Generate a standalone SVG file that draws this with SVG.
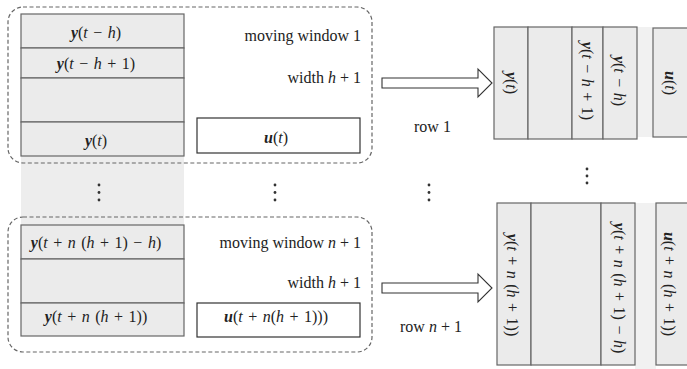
<svg xmlns="http://www.w3.org/2000/svg" width="687" height="369" viewBox="0 0 687 369">
<style>
.t{font-family:"Liberation Serif","Times New Roman",serif;font-size:16px;fill:#222}
.m{word-spacing:1.5px}
.i{font-style:italic}
.b{font-style:italic;font-weight:bold}
.cell{fill:#ebebeb;stroke:#666;stroke-width:1.2}
.box{fill:#fff;stroke:#333;stroke-width:1.2}
.win{fill:none;stroke:#666;stroke-width:1.2;stroke-dasharray:4 2.5}
.gap{fill:#f1f1f1}
.arr{fill:#fff;stroke:#333;stroke-width:1.1}
.dot{fill:#333}
</style>
<rect width="687" height="369" fill="#fff"/>

<!-- grey column between the two windows -->
<rect x="21" y="156" width="163" height="69" fill="#ededed"/>

<g id="window1">
  <rect class="win" x="8" y="7" width="364" height="156" rx="15"/>
  <g id="y-stack-1">
    <rect class="cell" x="21" y="14" width="163" height="34"/>
    <rect class="cell" x="21" y="48" width="163" height="30"/>
    <rect class="cell" x="21" y="78" width="163" height="44"/>
    <rect class="cell" x="21" y="122" width="163" height="34"/>
    <text class="t m" x="96" y="38" text-anchor="middle"><tspan class="b">y</tspan>(<tspan class="i">t</tspan> − <tspan class="i">h</tspan>)</text>
    <text class="t m" x="96" y="69" text-anchor="middle"><tspan class="b">y</tspan>(<tspan class="i">t</tspan> − <tspan class="i">h</tspan> + 1)</text>
    <text class="t m" x="96" y="146" text-anchor="middle"><tspan class="b">y</tspan>(<tspan class="i">t</tspan>)</text>
  </g>
  <g id="u-box-1">
    <rect class="box" x="197" y="118" width="163" height="35"/>
    <text class="t m" x="276" y="143" text-anchor="middle"><tspan class="b">u</tspan>(<tspan class="i">t</tspan>)</text>
  </g>
  <text class="t" x="361" y="41" text-anchor="end">moving window 1</text>
  <text class="t" x="361" y="83" text-anchor="end">width <tspan class="i">h</tspan> + 1</text>
</g>

<g id="window2">
  <rect class="win" x="8" y="217" width="364" height="135" rx="15"/>
  <g id="y-stack-2">
    <rect class="cell" x="21" y="225" width="163" height="34"/>
    <rect class="cell" x="21" y="259" width="163" height="44"/>
    <rect class="cell" x="21" y="303" width="163" height="33"/>
    <text class="t m" x="96" y="248" text-anchor="middle"><tspan class="b">y</tspan>(<tspan class="i">t</tspan> + <tspan class="i">n</tspan> (<tspan class="i">h</tspan> + 1) − <tspan class="i">h</tspan>)</text>
    <text class="t m" x="96" y="322" text-anchor="middle"><tspan class="b">y</tspan>(<tspan class="i">t</tspan> + <tspan class="i">n</tspan> (<tspan class="i">h</tspan> + 1))</text>
  </g>
  <g id="u-box-2">
    <rect class="box" x="197" y="303" width="163" height="34"/>
    <text class="t m" x="276" y="322" text-anchor="middle"><tspan class="b">u</tspan>(<tspan class="i">t</tspan> + <tspan class="i">n</tspan>(<tspan class="i">h</tspan> + 1)))</text>
  </g>
  <text class="t" x="361" y="248" text-anchor="end">moving window <tspan class="i">n</tspan> + 1</text>
  <text class="t" x="361" y="288" text-anchor="end">width <tspan class="i">h</tspan> + 1</text>
</g>

<g id="ellipses">
  <circle class="dot" cx="99" cy="185" r="1.4"/><circle class="dot" cx="99" cy="192.5" r="1.4"/><circle class="dot" cx="99" cy="200" r="1.4"/>
  <circle class="dot" cx="275" cy="185" r="1.4"/><circle class="dot" cx="275" cy="192.5" r="1.4"/><circle class="dot" cx="275" cy="200" r="1.4"/>
  <circle class="dot" cx="429" cy="185" r="1.4"/><circle class="dot" cx="429" cy="192.5" r="1.4"/><circle class="dot" cx="429" cy="200" r="1.4"/>
  <circle class="dot" cx="587" cy="169" r="1.4"/><circle class="dot" cx="587" cy="176" r="1.4"/><circle class="dot" cx="587" cy="183" r="1.4"/>
</g>

<g id="row1">
  <rect class="gap" x="637" y="27" width="16" height="110"/>
  <rect class="cell" x="494" y="27" width="34" height="112"/>
  <rect class="cell" x="528" y="27" width="44" height="112"/>
  <rect class="cell" x="572" y="27" width="31" height="112"/>
  <rect class="cell" x="603" y="27" width="34" height="112"/>
  <rect class="cell" x="653" y="28" width="50" height="109"/>
  <text class="t m" transform="translate(511 83) rotate(90)" y="5" text-anchor="middle"><tspan class="b">y</tspan>(<tspan class="i">t</tspan>)</text>
  <text class="t m" transform="translate(587 81) rotate(90)" y="5" text-anchor="middle"><tspan class="b">y</tspan>(<tspan class="i">t</tspan> − <tspan class="i">h</tspan> + 1)</text>
  <text class="t m" transform="translate(619 81) rotate(90)" y="5" text-anchor="middle"><tspan class="b">y</tspan>(<tspan class="i">t</tspan> − <tspan class="i">h</tspan>)</text>
  <text class="t m" transform="translate(670 83) rotate(90)" y="5" text-anchor="middle"><tspan class="b">u</tspan>(<tspan class="i">t</tspan>)</text>
</g>

<g id="row2">
  <rect class="gap" x="635" y="203" width="21" height="166"/>
  <rect class="cell" x="497" y="203" width="34" height="162"/>
  <rect class="cell" x="531" y="203" width="70" height="162"/>
  <rect class="cell" x="601" y="203" width="34" height="162"/>
  <rect class="cell" x="656" y="203" width="50" height="162"/>
  <text class="t m" transform="translate(512 285) rotate(90)" y="5" text-anchor="middle"><tspan class="b">y</tspan>(<tspan class="i">t</tspan> + <tspan class="i">n</tspan> (<tspan class="i">h</tspan> + 1))</text>
  <text class="t m" transform="translate(619 288) rotate(90)" y="5" text-anchor="middle"><tspan class="b">y</tspan>(<tspan class="i">t</tspan> + <tspan class="i">n</tspan> (<tspan class="i">h</tspan> + 1) − <tspan class="i">h</tspan>)</text>
  <text class="t m" transform="translate(669 284) rotate(90)" y="5" text-anchor="middle"><tspan class="b">u</tspan>(<tspan class="i">t</tspan> + <tspan class="i">n</tspan> (<tspan class="i">h</tspan> + 1))</text>
</g>

<g id="connectors">
  <polygon class="arr" points="382,78 478,78 478,69 492,83 478,97 478,88 382,88"/>
  <polygon class="arr" points="382,283 478,283 478,274 492,288 478,302 478,293 382,293"/>
  <text class="t" x="414" y="132">row 1</text>
  <text class="t" x="400" y="332">row <tspan class="i">n</tspan> + 1</text>
</g>
</svg>
